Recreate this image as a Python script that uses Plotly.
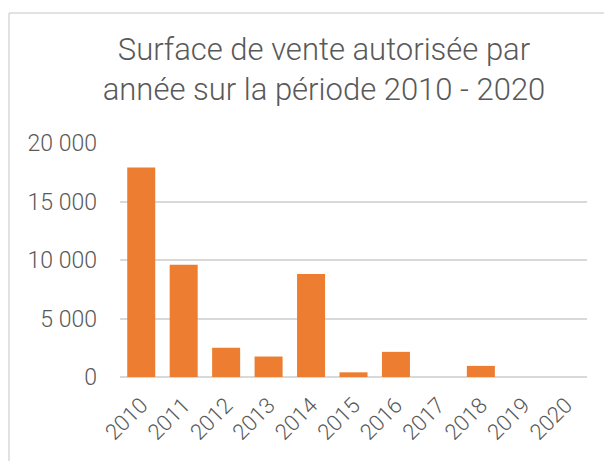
import plotly.graph_objects as go

years = ["2010", "2011", "2012", "2013", "2014", "2015", "2016", "2017", "2018", "2019", "2020"]
surface = [17900, 9600, 2500, 1750, 8800, 400, 2150, 0, 950, 0, 0]
y_tick_vals = [0, 5000, 10000, 15000, 20000]
y_tick_text = ["0", "5 000", "10 000", "15 000", "20 000"]
title_text = "Surface de vente autorisée par<br>année sur la période 2010 - 2020"

W, H = 604, 461
L, R, T, B = 120, 17, 143, 84
pw, ph = W - L - R, H - T - B

fig = go.Figure(go.Bar(
    x=years, y=surface,
    marker=dict(color="#ED7D31", line=dict(width=0)),
    hoverinfo="x+y",
))

font_family = "Roboto, Liberation Sans, Arial, sans-serif"
gray = "#595959"

fig.update_layout(
    width=W, height=H,
    margin=dict(l=L, r=R, t=T, b=B, autoexpand=False),
    paper_bgcolor="white", plot_bgcolor="white",
    bargap=0.34,
    showlegend=False,
    font=dict(family=font_family, color=gray, weight=300),
    title=dict(text=title_text, x=324 / W, xanchor="center",
               y=1 - 60 / H, yanchor="middle",
               font=dict(family=font_family, size=31, color=gray, weight=300)),
)

fig.update_xaxes(
    type="category", tickangle=-45, tickfont=dict(size=22, color=gray, weight=300),
    showline=False, showgrid=False, ticks="", automargin=False, ticklabelstandoff=10,
)
fig.update_yaxes(
    range=[0, 20000], tickvals=y_tick_vals, ticktext=y_tick_text,
    tickfont=dict(size=23, color=gray, weight=300), ticklabelstandoff=22,
    showgrid=True, gridcolor="#D9D9D9", gridwidth=1.5,
    zeroline=True, zerolinecolor="#D9D9D9", zerolinewidth=1.5,
    showline=False, ticks="", automargin=False,
)

# chart area border (top and left visible)
bx = (9 - L) / pw
by = (H - B - 13) / ph
fig.add_shape(type="line", xref="paper", yref="paper", x0=bx, x1=(W + 5 - L) / pw, y0=by, y1=by,
              line=dict(color="#D9D9D9", width=1.5))
fig.add_shape(type="line", xref="paper", yref="paper", x0=bx, x1=bx, y0=by, y1=-(B + 5) / ph,
              line=dict(color="#D9D9D9", width=1.5))

fig.write_html("out.html", config={"displayModeBar": False},
               post_script="document.body.style.margin='0';")
